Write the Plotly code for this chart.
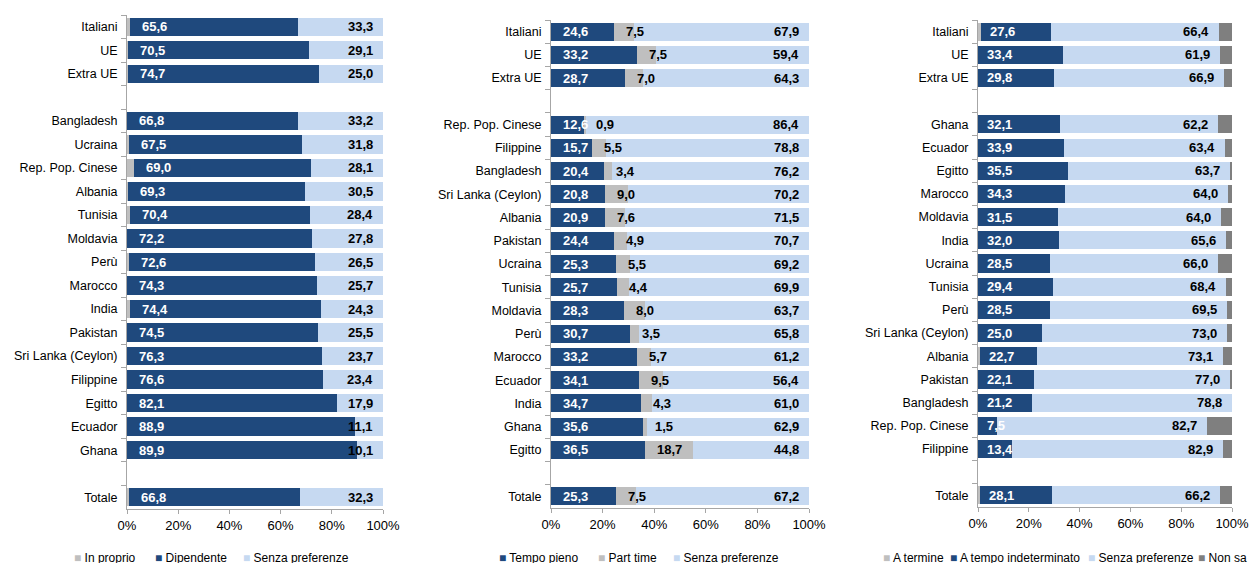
import plotly.graph_objects as go

# ---------------- data ----------------
# Panel 1: lavoro in proprio / dipendente
cat1 = ["Italiani", "UE", "Extra UE",
        "Bangladesh", "Ucraina", "Rep. Pop. Cinese", "Albania", "Tunisia", "Moldavia",
        "Perù", "Marocco", "India", "Pakistan", "Sri Lanka (Ceylon)", "Filippine",
        "Egitto", "Ecuador", "Ghana",
        "Totale"]
in_proprio = [1.1, 0.4, 0.3, 0.0, 0.7, 2.9, 0.2, 1.2, 0.0, 0.9, 0.0, 1.3, 0.0, 0.0, 0.0, 0.0, 0.0, 0.0, 0.9]
dipendente = [65.6, 70.5, 74.7, 66.8, 67.5, 69.0, 69.3, 70.4, 72.2, 72.6, 74.3, 74.4, 74.5, 76.3, 76.6, 82.1, 88.9, 89.9, 66.8]
senza1 = [33.3, 29.1, 25.0, 33.2, 31.8, 28.1, 30.5, 28.4, 27.8, 26.5, 25.7, 24.3, 25.5, 23.7, 23.4, 17.9, 11.1, 10.1, 32.3]

# Panel 2: tempo pieno / part time
cat2 = ["Italiani", "UE", "Extra UE",
        "Rep. Pop. Cinese", "Filippine", "Bangladesh", "Sri Lanka (Ceylon)", "Albania", "Pakistan",
        "Ucraina", "Tunisia", "Moldavia", "Perù", "Marocco", "Ecuador", "India", "Ghana", "Egitto",
        "Totale"]
tempo_pieno = [24.6, 33.2, 28.7, 12.6, 15.7, 20.4, 20.8, 20.9, 24.4, 25.3, 25.7, 28.3, 30.7, 33.2, 34.1, 34.7, 35.6, 36.5, 25.3]
part_time = [7.5, 7.5, 7.0, 0.9, 5.5, 3.4, 9.0, 7.6, 4.9, 5.5, 4.4, 8.0, 3.5, 5.7, 9.5, 4.3, 1.5, 18.7, 7.5]
senza2 = [67.9, 59.4, 64.3, 86.4, 78.8, 76.2, 70.2, 71.5, 70.7, 69.2, 69.9, 63.7, 65.8, 61.2, 56.4, 61.0, 62.9, 44.8, 67.2]

# Panel 3: a termine / a tempo indeterminato
cat3 = ["Italiani", "UE", "Extra UE",
        "Ghana", "Ecuador", "Egitto", "Marocco", "Moldavia", "India", "Ucraina", "Tunisia",
        "Perù", "Sri Lanka (Ceylon)", "Albania", "Pakistan", "Bangladesh", "Rep. Pop. Cinese", "Filippine",
        "Totale"]
a_termine = [1.0, 0.0, 0.0, 0.0, 0.0, 0.0, 0.0, 0.0, 0.0, 0.0, 0.0, 0.0, 0.0, 0.6, 0.0, 0.0, 0.0, 0.0, 0.9]
indeterminato = [27.6, 33.4, 29.8, 32.1, 33.9, 35.5, 34.3, 31.5, 32.0, 28.5, 29.4, 28.5, 25.0, 22.7, 22.1, 21.2, 7.5, 13.4, 28.1]
senza3 = [66.4, 61.9, 66.9, 62.2, 63.4, 63.7, 64.0, 64.0, 65.6, 66.0, 68.4, 69.5, 73.0, 73.1, 77.0, 78.8, 82.7, 82.9, 66.2]
non_sa = [5.0, 4.7, 3.3, 5.7, 2.7, 0.8, 1.7, 4.5, 2.4, 5.5, 2.2, 2.0, 2.0, 3.6, 0.9, 0.0, 9.8, 3.7, 4.8]

x_ticks = [0, 20, 40, 60, 80, 100]
x_ticklabels = ["0%", "20%", "40%", "60%", "80%", "100%"]

# ---------------- styling ----------------
DARK = "#1F497D"
LIGHT = "#C6D9F1"
GRAY = "#BFBFBF"
DGRAY = "#7F7F7F"
FONT = "Liberation Sans, Arial, sans-serif"
W, H = 1250, 563


def order(cats):
    return cats[:3] + [" "] + cats[3:-1] + ["  "] + cats[-1:]


def fmt(v):
    return f"{v:.1f}".replace(".", ",")


fig = go.Figure()

panels = [
    dict(cats=cat1, series=[("In proprio", in_proprio, GRAY), ("Dipendente", dipendente, DARK),
                            ("Senza preferenze", senza1, LIGHT)], xa="x", ya="y"),
    dict(cats=cat2, series=[("Tempo pieno", tempo_pieno, DARK), ("Part time", part_time, GRAY),
                            ("Senza preferenze", senza2, LIGHT)], xa="x2", ya="y2"),
    dict(cats=cat3, series=[("A termine", a_termine, GRAY), ("A tempo indeterminato", indeterminato, DARK),
                            ("Senza preferenze", senza3, LIGHT), ("Non sa", non_sa, DGRAY)], xa="x3", ya="y3"),
]

for p in panels:
    for name, vals, col in p["series"]:
        fig.add_trace(go.Bar(
            y=p["cats"], x=vals, name=name, orientation="h",
            marker=dict(color=col, line=dict(width=0)),
            xaxis=p["xa"], yaxis=p["ya"], showlegend=False,
            hovertemplate="%{y}: %{x:.1f}<extra>" + name + "</extra>",
        ))

annotations = []
wfont = dict(family=FONT, size=13, color="white", weight="bold")
bfont = dict(family=FONT, size=13, color="black", weight="bold")


def ann(x, y, text, font, xanchor, xshift, xref, yref):
    annotations.append(dict(x=x, y=y, text=text, font=font, showarrow=False,
                            xanchor=xanchor, xshift=xshift, xref=xref, yref=yref))


# Panel 1 labels
for i, c in enumerate(cat1):
    ann(in_proprio[i], c, fmt(dipendente[i]), wfont, "left", 10, "x", "y")
    ann(min(100, in_proprio[i] + dipendente[i] + senza1[i]), c, fmt(senza1[i]), bfont, "right", -8, "x", "y")

# Panel 2 labels
for i, c in enumerate(cat2):
    ann(0, c, fmt(tempo_pieno[i]), wfont, "left", 10, "x2", "y2")
    ann(tempo_pieno[i], c, fmt(part_time[i]), bfont, "left", 10, "x2", "y2")
    ann(min(100, tempo_pieno[i] + part_time[i] + senza2[i]), c, fmt(senza2[i]), bfont, "right", -8, "x2", "y2")

# Panel 3 labels
for i, c in enumerate(cat3):
    ann(a_termine[i], c, fmt(indeterminato[i]), wfont, "left", 7, "x3", "y3")
    ann(min(100, a_termine[i] + indeterminato[i] + senza3[i]), c, fmt(senza3[i]), bfont, "right", -8, "x3", "y3")

# Legends (one per panel, under each chart)
legend_x = [[72, 153, 241], [497, 596, 671], [881, 948, 1086, 1196]]
for p, xs in zip(panels, legend_x):
    for (name, vals, col), px in zip(p["series"], xs):
        annotations.append(dict(
            x=px / W, y=5 / H, xref="paper", yref="paper", xanchor="left", yanchor="middle",
            showarrow=False,
            text=f"<span style='color:{col}'>■</span> {name}",
            font=dict(family=FONT, size=12, color="black"),
        ))

xdomains = [[127 / W, 383 / W], [551 / W, 809 / W], [978 / W, 1232 / W]]
ydomains = [[1 - 509 / H, 1 - 15 / H], [1 - 508 / H, 1 - 20 / H], [1 - 507 / H, 1 - 20 / H]]

layout = dict(
    width=W, height=H, autosize=False, margin=dict(l=0, r=0, t=0, b=0),
    barmode="stack", bargap=0.22,
    paper_bgcolor="white", plot_bgcolor="white",
    font=dict(family=FONT, size=13, color="black"),
    annotations=annotations, showlegend=False,
)

for k, p in enumerate(panels):
    sx = "" if k == 0 else str(k + 1)
    layout["xaxis" + sx] = dict(
        domain=xdomains[k], anchor="y" + sx, range=[0, 100],
        tickvals=x_ticks, ticktext=x_ticklabels,
        showgrid=False, zeroline=False, showline=True, linecolor="#A6A6A6", linewidth=1,
        ticks="outside", ticklen=4, tickcolor="#A6A6A6", automargin=False,
        tickfont=dict(family=FONT, size=13, color="black"), fixedrange=True,
    )
    ordr = order(p["cats"])
    layout["yaxis" + sx] = dict(
        domain=ydomains[k], anchor="x" + sx, type="category",
        categoryorder="array", categoryarray=ordr,
        range=[len(ordr) - 0.5, -0.5],
        showgrid=False, zeroline=False, showline=True, linecolor="#A6A6A6", linewidth=1,
        ticks="outside", ticklen=5, tickcolor="#A6A6A6", tickson="boundaries",
        ticklabelstandoff=6, automargin=False,
        tickfont=dict(family=FONT, size=12.5, color="black"), fixedrange=True,
    )

fig.update_layout(**layout)
fig.write_html(
    "out.html",
    config={"displayModeBar": False},
    post_script="document.body.style.margin='0';document.documentElement.style.overflow='hidden';",
)
